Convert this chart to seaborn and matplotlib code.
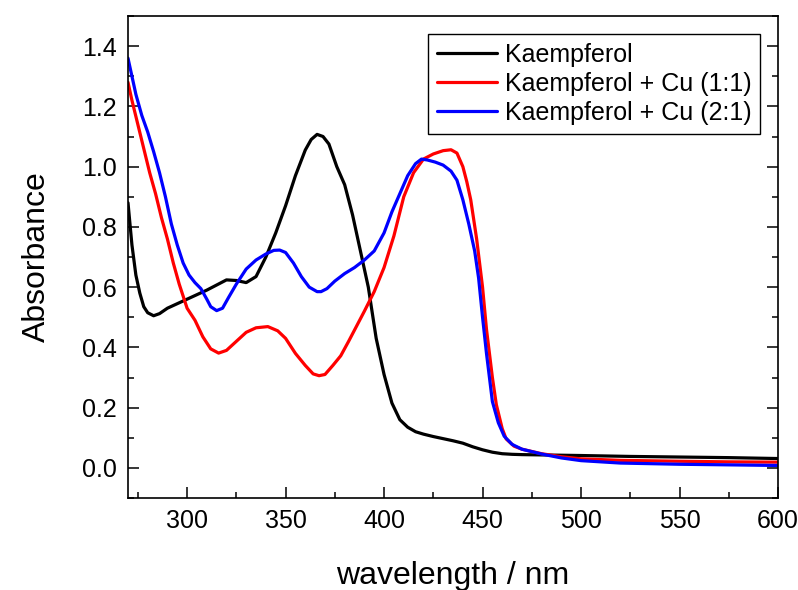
import numpy as np
import pandas as pd
import matplotlib
matplotlib.use("Agg")
import matplotlib.pyplot as plt
import seaborn as sns
from matplotlib.ticker import MultipleLocator
from matplotlib import font_manager

# ---- data ----
wl_k = [270, 272, 274, 276, 278, 280, 283, 286, 290, 295, 300, 305, 310, 315, 320, 325, 330, 335,
        340, 345, 350, 355, 360, 363, 366, 369, 372, 376, 380, 384, 388, 392, 396, 400, 404, 408,
        412, 416, 420, 425, 430, 435, 440, 445, 450, 455, 460, 465, 470, 480, 500, 525, 550, 575, 600]
abs_k = [0.88, 0.74, 0.64, 0.58, 0.535, 0.515, 0.505, 0.512, 0.53, 0.545, 0.56, 0.575, 0.59, 0.607,
         0.624, 0.622, 0.615, 0.635, 0.70, 0.78, 0.87, 0.97, 1.055, 1.09, 1.107, 1.10, 1.075, 1.0,
         0.94, 0.84, 0.72, 0.60, 0.43, 0.31, 0.215, 0.16, 0.135, 0.12, 0.112, 0.104, 0.097, 0.09,
         0.082, 0.07, 0.06, 0.052, 0.047, 0.045, 0.044, 0.043, 0.041, 0.038, 0.036, 0.034, 0.031]

wl_cu11 = [270, 272, 275, 278, 281, 284, 287, 290, 293, 296, 300, 304, 308, 312, 316, 320, 325, 330,
           335, 341, 346, 350, 355, 360, 364, 367, 370, 374, 378, 382, 386, 390, 395, 400, 405, 410,
           415, 420, 425, 430, 434, 437, 440, 442, 444, 447, 450, 452, 455, 457, 460, 462, 466, 470,
           480, 490, 500, 520, 550, 575, 600]
abs_cu11 = [1.28, 1.22, 1.14, 1.06, 0.98, 0.91, 0.83, 0.76, 0.68, 0.61, 0.53, 0.49, 0.435, 0.395,
            0.381, 0.39, 0.42, 0.45, 0.465, 0.469, 0.455, 0.43, 0.38, 0.34, 0.312, 0.306, 0.31,
            0.34, 0.372, 0.42, 0.47, 0.52, 0.585, 0.665, 0.77, 0.90, 0.98, 1.025, 1.042, 1.053,
            1.056, 1.045, 1.0, 0.95, 0.89, 0.76, 0.60, 0.46, 0.30, 0.21, 0.13, 0.096, 0.072, 0.062,
            0.047, 0.037, 0.03, 0.025, 0.022, 0.02, 0.019]

wl_cu21 = [270, 272, 274, 277, 280, 283, 286, 289, 292, 295, 298, 301, 304, 307, 310, 312, 315, 318,
           321, 325, 330, 335, 340, 344, 347, 350, 354, 358, 362, 366, 368, 371, 375, 380, 385, 390,
           395, 400, 404, 408, 412, 416, 419, 422, 426, 430, 434, 437, 440, 443, 446, 448, 450, 452,
           455, 458, 461, 465, 470, 480, 490, 500, 520, 550, 575, 600]
abs_cu21 = [1.36, 1.30, 1.24, 1.17, 1.115, 1.05, 0.98, 0.90, 0.81, 0.74, 0.68, 0.64, 0.615, 0.595,
            0.56, 0.535, 0.522, 0.53, 0.565, 0.61, 0.66, 0.69, 0.71, 0.722, 0.723, 0.715, 0.68,
            0.635, 0.60, 0.585, 0.585, 0.595, 0.62, 0.645, 0.665, 0.69, 0.72, 0.78, 0.85, 0.91,
            0.97, 1.01, 1.025, 1.022, 1.015, 1.005, 0.985, 0.955, 0.89, 0.81, 0.72, 0.63, 0.50,
            0.38, 0.22, 0.15, 0.105, 0.078, 0.062, 0.046, 0.033, 0.024, 0.016, 0.012, 0.010, 0.008]

labels = ["Kaempferol", "Kaempferol + Cu (1:1)", "Kaempferol + Cu (2:1)"]
colors = ["#000000", "#FF0000", "#0000FF"]

df = pd.concat([
    pd.DataFrame({"wavelength": wl_k, "Absorbance": abs_k, "sample": labels[0]}),
    pd.DataFrame({"wavelength": wl_cu11, "Absorbance": abs_cu11, "sample": labels[1]}),
    pd.DataFrame({"wavelength": wl_cu21, "Absorbance": abs_cu21, "sample": labels[2]}),
], ignore_index=True)

# ---- style ----
sns.set_style("ticks")
plt.rcParams["font.family"] = ["Liberation Sans", "DejaVu Sans"]
for k in ["text.color", "axes.labelcolor", "xtick.color", "ytick.color", "axes.edgecolor"]:
    plt.rcParams[k] = "black"

installed = {f.name for f in font_manager.fontManager.ttflist}
tick_family = ["Liberation Sans Narrow"] if "Liberation Sans Narrow" in installed else ["Liberation Sans"]
tick_size = 22 if "Liberation Sans Narrow" in installed else 18

fig = plt.figure(figsize=(7.98, 5.90), dpi=100)
ax = fig.add_axes([128 / 798, 1 - 498 / 590, 650 / 798, 482 / 590])

sns.lineplot(data=df, x="wavelength", y="Absorbance", hue="sample",
             palette=dict(zip(labels, colors)), hue_order=labels,
             estimator=None, sort=True, linewidth=2.3, ax=ax)

ax.set_xlim(270, 600)
ax.set_ylim(-0.1, 1.5)
ax.xaxis.set_major_locator(MultipleLocator(50))
ax.xaxis.set_minor_locator(MultipleLocator(25))
ax.yaxis.set_major_locator(MultipleLocator(0.2))
ax.yaxis.set_minor_locator(MultipleLocator(0.1))
ax.yaxis.set_major_formatter(matplotlib.ticker.FormatStrFormatter("%.1f"))

ax.tick_params(which="both", direction="in", right=True, top=False, width=1.1, colors="black")
ax.tick_params(which="major", length=8, pad=8)
ax.tick_params(which="minor", length=4)
for lab in ax.get_xticklabels() + ax.get_yticklabels():
    lab.set_fontfamily(tick_family)
    lab.set_fontsize(tick_size)
for s in ax.spines.values():
    s.set_linewidth(1.2)
    s.set_color("black")

ax.set_xlabel("wavelength / nm", fontsize=23, labelpad=20)
ax.set_ylabel("Absorbance", fontsize=23, labelpad=22)

leg = ax.legend(loc="upper right", bbox_to_anchor=(632 / 650, 464 / 482), borderaxespad=0,
                fontsize=18, frameon=True, fancybox=False, edgecolor="black",
                handlelength=2.4, handletextpad=0.3, labelspacing=0.2, borderpad=0.35)
leg.get_frame().set_linewidth(1.0)
leg.get_frame().set_alpha(1)

fig.savefig("out.png", dpi=100)
